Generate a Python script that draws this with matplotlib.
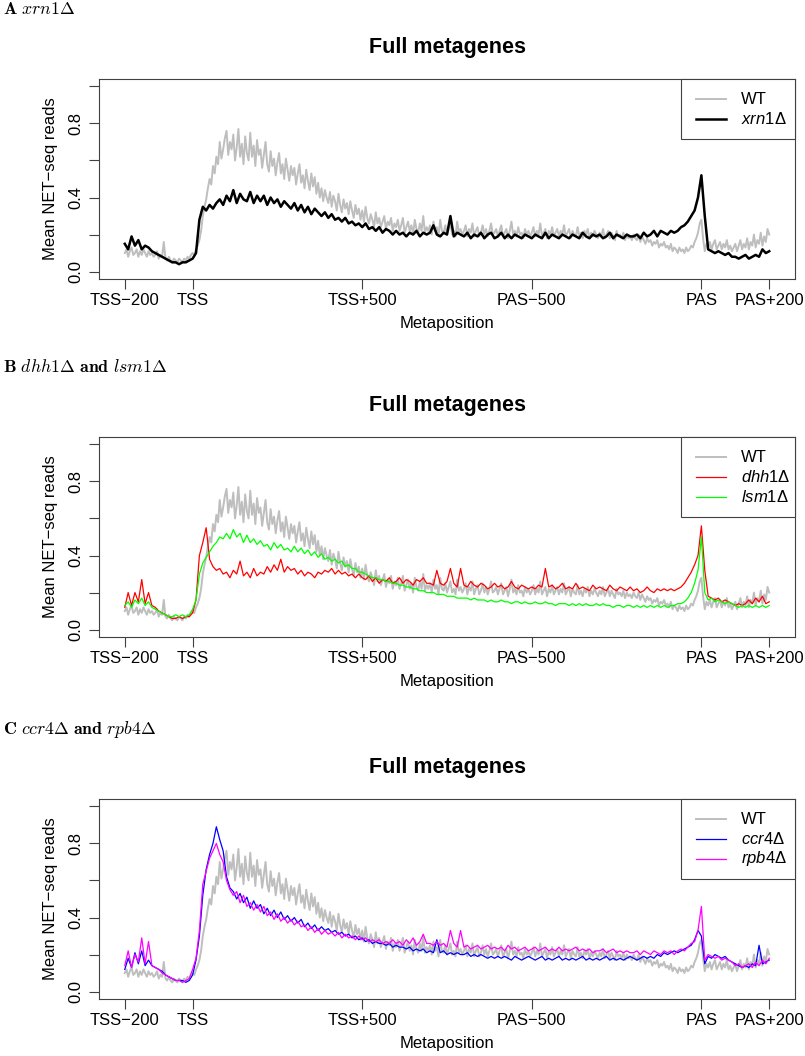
"""Full metagenes: NET-seq profiles for three mutant sets (A, B, C)"""
import matplotlib
matplotlib.use('Agg')
import matplotlib.pyplot as plt
import matplotlib.patches as mp
from matplotlib.lines import Line2D
import numpy as np

W, H = 805, 1056
DPI = 100

plt.rcParams['font.family'] = ['Liberation Sans', 'DejaVu Sans']
plt.rcParams['mathtext.fontset'] = 'custom'
plt.rcParams['mathtext.rm'] = 'Liberation Sans'
plt.rcParams['mathtext.it'] = 'Liberation Sans:italic'
plt.rcParams['mathtext.bf'] = 'Liberation Sans:bold'

GRAY = '#BEBEBE'
FRAME = '#404040'

# metaposition axis
tick_pos = [0, 200, 700, 1200, 1700, 1900]
tick_lab = ['TSS−200', 'TSS', 'TSS+500', 'PAS−500', 'PAS', 'PAS+200']
pos_wt = np.arange(0, 1901, 5)    # WT read every 5 metapositions
pos = np.arange(0, 1901, 10)      # mutants every 10

# mean NET-seq reads
wt = [
    0.10, 0.12, 0.08, 0.11, 0.13, 0.09, 0.10, 0.12, 0.08, 0.11, 0.09, 0.12, 0.10, 0.08, 0.11, 0.09, 0.10, 0.08, 0.09, 0.11,
    0.07, 0.09, 0.08, 0.16, 0.07, 0.06, 0.08, 0.06, 0.05, 0.07, 0.06, 0.05, 0.07, 0.06, 0.05, 0.07, 0.06, 0.08, 0.07, 0.09,
    0.10, 0.09, 0.12, 0.14, 0.17, 0.22, 0.30, 0.35, 0.39, 0.45, 0.50, 0.47, 0.57, 0.53, 0.62, 0.58, 0.70, 0.61, 0.66, 0.72,
    0.76, 0.63, 0.70, 0.66, 0.74, 0.60, 0.67, 0.77, 0.62, 0.69, 0.58, 0.73, 0.64, 0.60, 0.75, 0.62, 0.68, 0.57, 0.71, 0.63,
    0.66, 0.56, 0.63, 0.70, 0.58, 0.54, 0.65, 0.57, 0.61, 0.52, 0.59, 0.64, 0.53, 0.58, 0.50, 0.61, 0.55, 0.49, 0.57, 0.52,
    0.56, 0.47, 0.53, 0.58, 0.48, 0.52, 0.45, 0.55, 0.49, 0.44, 0.53, 0.46, 0.51, 0.42, 0.48, 0.40, 0.45, 0.38, 0.44, 0.40,
    0.37, 0.43, 0.35, 0.41, 0.38, 0.33, 0.42, 0.36, 0.32, 0.39, 0.34, 0.37, 0.31, 0.38, 0.33, 0.29, 0.36, 0.31, 0.34, 0.28,
    0.33, 0.27, 0.35, 0.29, 0.26, 0.31, 0.28, 0.24, 0.32, 0.26, 0.29, 0.24, 0.27, 0.30, 0.23, 0.27, 0.25, 0.29, 0.22, 0.26,
    0.24, 0.28, 0.22, 0.25, 0.29, 0.21, 0.24, 0.27, 0.22, 0.25, 0.20, 0.28, 0.23, 0.21, 0.26, 0.22, 0.30, 0.21, 0.24, 0.22,
    0.25, 0.20, 0.27, 0.22, 0.24, 0.19, 0.28, 0.22, 0.21, 0.25, 0.20, 0.23, 0.26, 0.20, 0.22, 0.19, 0.27, 0.21, 0.23, 0.20,
    0.22, 0.25, 0.19, 0.23, 0.21, 0.26, 0.19, 0.22, 0.24, 0.19, 0.21, 0.25, 0.20, 0.23, 0.19, 0.22, 0.26, 0.20, 0.21, 0.23,
    0.19, 0.22, 0.25, 0.19, 0.21, 0.23, 0.18, 0.22, 0.27, 0.20, 0.22, 0.19, 0.24, 0.20, 0.21, 0.18, 0.23, 0.20, 0.22, 0.19,
    0.21, 0.24, 0.19, 0.22, 0.20, 0.26, 0.19, 0.21, 0.23, 0.18, 0.22, 0.20, 0.24, 0.19, 0.21, 0.23, 0.19, 0.22, 0.20, 0.25,
    0.19, 0.21, 0.23, 0.18, 0.22, 0.20, 0.19, 0.24, 0.19, 0.21, 0.18, 0.22, 0.20, 0.23, 0.18, 0.21, 0.19, 0.22, 0.20, 0.18,
    0.21, 0.19, 0.23, 0.18, 0.20, 0.22, 0.18, 0.21, 0.19, 0.17, 0.22, 0.19, 0.20, 0.18, 0.21, 0.17, 0.20, 0.18, 0.19, 0.17,
    0.20, 0.18, 0.17, 0.20, 0.16, 0.19, 0.17, 0.15, 0.18, 0.16, 0.17, 0.14, 0.16, 0.15, 0.17, 0.13, 0.15, 0.14, 0.16, 0.13,
    0.14, 0.12, 0.15, 0.11, 0.13, 0.12, 0.10, 0.13, 0.11, 0.12, 0.10, 0.13, 0.11, 0.12, 0.14, 0.13, 0.16, 0.18, 0.21, 0.26,
    0.28, 0.18, 0.11, 0.15, 0.13, 0.16, 0.12, 0.15, 0.17, 0.12, 0.14, 0.16, 0.12, 0.15, 0.13, 0.17, 0.12, 0.14, 0.11, 0.13,
    0.15, 0.11, 0.14, 0.17, 0.12, 0.15, 0.13, 0.18, 0.12, 0.16, 0.14, 0.20, 0.13, 0.17, 0.15, 0.21, 0.14, 0.19, 0.16, 0.23,
    0.20,
]

xrn1 = [
    0.15, 0.12, 0.19, 0.14, 0.17, 0.12, 0.14, 0.13, 0.11, 0.10,
    0.09, 0.08, 0.07, 0.06, 0.05, 0.05, 0.04, 0.05, 0.05, 0.06,
    0.07, 0.10, 0.28, 0.35, 0.33, 0.36, 0.34, 0.37, 0.39, 0.36,
    0.41, 0.38, 0.44, 0.37, 0.42, 0.39, 0.38, 0.43, 0.37, 0.41,
    0.38, 0.41, 0.36, 0.40, 0.37, 0.39, 0.35, 0.38, 0.36, 0.34,
    0.37, 0.33, 0.36, 0.32, 0.35, 0.31, 0.34, 0.32, 0.30, 0.32,
    0.29, 0.31, 0.28, 0.29, 0.27, 0.29, 0.26, 0.27, 0.25, 0.26,
    0.24, 0.26, 0.23, 0.24, 0.22, 0.24, 0.21, 0.23, 0.22, 0.20,
    0.22, 0.20, 0.21, 0.19, 0.21, 0.20, 0.22, 0.19, 0.21, 0.20,
    0.21, 0.25, 0.20, 0.19, 0.21, 0.20, 0.30, 0.19, 0.21, 0.20,
    0.19, 0.21, 0.18, 0.20, 0.19, 0.21, 0.18, 0.20, 0.21, 0.18,
    0.19, 0.21, 0.18, 0.20, 0.18, 0.20, 0.19, 0.18, 0.20, 0.19,
    0.18, 0.20, 0.19, 0.18, 0.21, 0.18, 0.20, 0.19, 0.18, 0.20,
    0.19, 0.18, 0.20, 0.19, 0.18, 0.21, 0.19, 0.18, 0.20, 0.19,
    0.20, 0.18, 0.19, 0.21, 0.18, 0.20, 0.19, 0.18, 0.20, 0.19,
    0.19, 0.20, 0.18, 0.21, 0.19, 0.20, 0.22, 0.19, 0.22, 0.21,
    0.20, 0.22, 0.21, 0.22, 0.24, 0.25, 0.27, 0.30, 0.33, 0.40,
    0.52, 0.30, 0.12, 0.11, 0.10, 0.11, 0.10, 0.09, 0.10, 0.08,
    0.08, 0.07, 0.08, 0.09, 0.07, 0.08, 0.09, 0.08, 0.12, 0.10,
    0.11,
]

dhh1 = [
    0.12, 0.20, 0.13, 0.20, 0.15, 0.27, 0.14, 0.20, 0.13, 0.12,
    0.10, 0.09, 0.08, 0.07, 0.06, 0.06, 0.07, 0.06, 0.07, 0.07,
    0.09, 0.16, 0.40, 0.47, 0.55, 0.38, 0.34, 0.32, 0.33, 0.30,
    0.31, 0.28, 0.32, 0.30, 0.37, 0.29, 0.31, 0.28, 0.33, 0.29,
    0.31, 0.30, 0.34, 0.31, 0.35, 0.32, 0.38, 0.31, 0.34, 0.32,
    0.33, 0.30, 0.32, 0.29, 0.31, 0.30, 0.28, 0.31, 0.30, 0.32,
    0.31, 0.33, 0.30, 0.32, 0.30, 0.31, 0.29, 0.30, 0.28, 0.30,
    0.28, 0.27, 0.29, 0.26, 0.28, 0.25, 0.27, 0.26, 0.28, 0.25,
    0.26, 0.28, 0.25, 0.27, 0.26, 0.24, 0.27, 0.26, 0.28, 0.25,
    0.25, 0.24, 0.32, 0.25, 0.24, 0.26, 0.33, 0.25, 0.23, 0.33,
    0.24, 0.23, 0.26, 0.24, 0.23, 0.25, 0.24, 0.22, 0.23, 0.25,
    0.23, 0.24, 0.22, 0.23, 0.26, 0.23, 0.22, 0.24, 0.23, 0.22,
    0.23, 0.22, 0.24, 0.23, 0.33, 0.23, 0.24, 0.22, 0.23, 0.25,
    0.22, 0.23, 0.22, 0.25, 0.22, 0.23, 0.22, 0.21, 0.24, 0.22,
    0.23, 0.22, 0.21, 0.24, 0.22, 0.21, 0.23, 0.22, 0.21, 0.23,
    0.21, 0.22, 0.20, 0.21, 0.23, 0.21, 0.20, 0.22, 0.21, 0.22,
    0.21, 0.22, 0.21, 0.22, 0.23, 0.25, 0.28, 0.31, 0.35, 0.40,
    0.56, 0.32, 0.18, 0.17, 0.16, 0.17, 0.15, 0.16, 0.15, 0.14,
    0.13, 0.14, 0.13, 0.14, 0.16, 0.14, 0.17, 0.15, 0.18, 0.14,
    0.15,
]

lsm1 = [
    0.13, 0.15, 0.12, 0.16, 0.14, 0.17, 0.13, 0.15, 0.12, 0.11,
    0.10, 0.09, 0.08, 0.07, 0.07, 0.08, 0.07, 0.08, 0.07, 0.08,
    0.11, 0.16, 0.30, 0.36, 0.39, 0.42, 0.45, 0.47, 0.50, 0.49,
    0.52, 0.49, 0.54, 0.50, 0.52, 0.47, 0.51, 0.47, 0.49, 0.46,
    0.48, 0.45, 0.46, 0.43, 0.47, 0.44, 0.46, 0.43, 0.44, 0.42,
    0.45, 0.42, 0.44, 0.41, 0.43, 0.40, 0.42, 0.39, 0.41, 0.38,
    0.39, 0.37, 0.38, 0.36, 0.37, 0.34, 0.35, 0.33, 0.33, 0.31,
    0.31, 0.30, 0.29, 0.28, 0.28, 0.27, 0.27, 0.26, 0.26, 0.25,
    0.25, 0.24, 0.24, 0.23, 0.23, 0.22, 0.22, 0.21, 0.21, 0.20,
    0.20, 0.20, 0.19, 0.19, 0.19, 0.18, 0.18, 0.18, 0.17, 0.17,
    0.17, 0.17, 0.16, 0.17, 0.16, 0.16, 0.16, 0.15, 0.16, 0.15,
    0.15, 0.16, 0.15, 0.15, 0.14, 0.15, 0.15, 0.14, 0.15, 0.14,
    0.14, 0.15, 0.14, 0.14, 0.15, 0.14, 0.14, 0.13, 0.14, 0.14,
    0.14, 0.13, 0.14, 0.13, 0.14, 0.13, 0.14, 0.13, 0.13, 0.14,
    0.13, 0.14, 0.13, 0.13, 0.12, 0.13, 0.13, 0.12, 0.13, 0.13,
    0.12, 0.13, 0.12, 0.13, 0.12, 0.13, 0.12, 0.13, 0.12, 0.13,
    0.12, 0.13, 0.13, 0.14, 0.14, 0.15, 0.17, 0.20, 0.25, 0.32,
    0.50, 0.20, 0.16, 0.17, 0.15, 0.16, 0.15, 0.14, 0.15, 0.14,
    0.13, 0.12, 0.13, 0.12, 0.13, 0.12, 0.13, 0.12, 0.13, 0.12,
    0.13,
]

ccr4 = [
    0.12, 0.18, 0.13, 0.21, 0.15, 0.22, 0.14, 0.17, 0.14, 0.13,
    0.12, 0.11, 0.09, 0.08, 0.07, 0.06, 0.06, 0.06, 0.05, 0.06,
    0.09, 0.17, 0.30, 0.52, 0.66, 0.74, 0.80, 0.89, 0.82, 0.76,
    0.62, 0.56, 0.54, 0.50, 0.53, 0.48, 0.51, 0.45, 0.49, 0.45,
    0.47, 0.42, 0.45, 0.41, 0.44, 0.40, 0.43, 0.39, 0.41, 0.38,
    0.40, 0.37, 0.39, 0.35, 0.37, 0.34, 0.36, 0.33, 0.35, 0.33,
    0.34, 0.32, 0.33, 0.31, 0.32, 0.30, 0.31, 0.29, 0.30, 0.28,
    0.29, 0.27, 0.28, 0.26, 0.27, 0.26, 0.26, 0.25, 0.26, 0.24,
    0.25, 0.24, 0.24, 0.23, 0.24, 0.22, 0.23, 0.22, 0.23, 0.21,
    0.22, 0.21, 0.28, 0.21, 0.22, 0.20, 0.21, 0.20, 0.21, 0.20,
    0.20, 0.21, 0.19, 0.20, 0.19, 0.20, 0.19, 0.18, 0.19, 0.18,
    0.19, 0.18, 0.19, 0.18, 0.17, 0.19, 0.18, 0.17, 0.18, 0.19,
    0.18, 0.17, 0.18, 0.19, 0.17, 0.18, 0.17, 0.18, 0.19, 0.17,
    0.18, 0.17, 0.18, 0.17, 0.18, 0.19, 0.17, 0.18, 0.17, 0.18,
    0.17, 0.18, 0.19, 0.17, 0.18, 0.17, 0.18, 0.17, 0.18, 0.19,
    0.18, 0.17, 0.18, 0.19, 0.18, 0.19, 0.18, 0.20, 0.19, 0.21,
    0.20, 0.21, 0.22, 0.21, 0.22, 0.23, 0.24, 0.25, 0.28, 0.33,
    0.30, 0.15, 0.19, 0.18, 0.20, 0.19, 0.18, 0.19, 0.17, 0.16,
    0.15, 0.14, 0.13, 0.14, 0.13, 0.15, 0.14, 0.25, 0.15, 0.16,
    0.17,
]

rpb4 = [
    0.14, 0.22, 0.13, 0.20, 0.16, 0.29, 0.15, 0.27, 0.14, 0.13,
    0.12, 0.10, 0.09, 0.08, 0.07, 0.06, 0.06, 0.05, 0.06, 0.07,
    0.12, 0.18, 0.33, 0.58, 0.65, 0.72, 0.76, 0.80, 0.74, 0.70,
    0.60, 0.55, 0.52, 0.54, 0.48, 0.52, 0.46, 0.48, 0.44, 0.47,
    0.43, 0.46, 0.41, 0.43, 0.39, 0.42, 0.38, 0.40, 0.37, 0.39,
    0.36, 0.38, 0.35, 0.36, 0.33, 0.35, 0.32, 0.34, 0.31, 0.33,
    0.31, 0.32, 0.30, 0.32, 0.29, 0.31, 0.29, 0.30, 0.28, 0.30,
    0.28, 0.29, 0.27, 0.28, 0.27, 0.28, 0.26, 0.27, 0.26, 0.28,
    0.26, 0.27, 0.25, 0.28, 0.26, 0.29, 0.25, 0.27, 0.31, 0.26,
    0.26, 0.25, 0.27, 0.25, 0.26, 0.24, 0.33, 0.26, 0.24, 0.33,
    0.24, 0.25, 0.23, 0.24, 0.25, 0.23, 0.24, 0.25, 0.23, 0.24,
    0.23, 0.24, 0.22, 0.25, 0.23, 0.24, 0.22, 0.23, 0.24, 0.22,
    0.23, 0.24, 0.22, 0.23, 0.24, 0.22, 0.23, 0.22, 0.24, 0.22,
    0.23, 0.22, 0.23, 0.24, 0.22, 0.23, 0.22, 0.23, 0.21, 0.22,
    0.22, 0.23, 0.21, 0.22, 0.23, 0.21, 0.22, 0.21, 0.22, 0.21,
    0.21, 0.22, 0.20, 0.22, 0.21, 0.20, 0.22, 0.21, 0.20, 0.22,
    0.21, 0.22, 0.20, 0.22, 0.23, 0.22, 0.24, 0.26, 0.27, 0.33,
    0.46, 0.17, 0.20, 0.19, 0.18, 0.19, 0.17, 0.18, 0.17, 0.16,
    0.14, 0.15, 0.13, 0.14, 0.15, 0.13, 0.16, 0.14, 0.17, 0.15,
    0.18,
]

assert len(wt) == len(pos_wt)
for s in (xrn1, dhh1, lsm1, ccr4, rpb4):
    assert len(s) == len(pos)

fig = plt.figure(figsize=(W / DPI, H / DPI), dpi=DPI)
fig.patch.set_facecolor('white')


def fx(x):
    return x / W


def fy(y):
    return 1 - y / H


def draw_panel(top, label, lab_y, series, names):
    bottom = top + 200
    ax = fig.add_axes([fx(99), fy(bottom), fx(795) - fx(99), (bottom - top) / H])
    for xs, vals, col, lw in series:
        ax.plot(xs, vals, color=col, lw=lw)
    ax.set_xlim(-76, 1976)
    ax.set_ylim(-0.04, 1.04)
    ax.set_xticks(tick_pos, tick_lab)
    ax.set_yticks([0, 0.2, 0.4, 0.6, 0.8, 1.0], ['0.0', '', '0.4', '', '0.8', ''])
    for lbl in ax.get_yticklabels():
        lbl.set_rotation(90)
        lbl.set_va('center')
    ax.tick_params(axis='both', length=7, width=0.8, color=FRAME,
                   labelsize=12, direction='out')
    ax.tick_params(axis='x', pad=3)
    ax.tick_params(axis='y', pad=4)
    for sp in ax.spines.values():
        sp.set_color(FRAME)
        sp.set_linewidth(0.8)
    ax.set_xlabel('Metaposition', fontsize=12, labelpad=6)
    ax.set_ylabel('Mean NET−seq reads', fontsize=12, labelpad=8)

    # title and panel label
    fig.text(fx(447), fy(top - 31), 'Full metagenes', ha='center', va='center',
             fontsize=15.5, fontweight='bold')
    fig.text(fx(3), fy(lab_y), label, ha='left', va='center', fontsize=12.8,
             math_fontfamily='cm')

    # legend box, top right corner inside the frame
    n = len(names)
    bx0 = 681
    box_h = 20 * n + 20
    fig.add_artist(mp.Rectangle((fx(bx0), fy(top + box_h)), fx(795) - fx(bx0),
                                box_h / H, transform=fig.transFigure,
                                fc='white', ec=FRAME, lw=0.8, zorder=5))
    for i, ((xs, vals, col, lw), name) in enumerate(zip(series, names)):
        ly = top + 20 + 20 * i
        fig.add_artist(Line2D([fx(696), fx(726)], [fy(ly), fy(ly)],
                              transform=fig.transFigure, color=col, lw=lw,
                              zorder=6))
        fig.text(fx(741), fy(ly), name, ha='left', va='center', fontsize=12,
                 zorder=7)
    return ax


draw_panel(79, r'$\mathbf{A}\ xrn1\Delta$', 10,
           [(pos_wt, wt, GRAY, 1.4), (pos, xrn1, 'black', 1.8)],
           ['WT', r'$\mathit{xrn1}\Delta$'])

draw_panel(437, r'$\mathbf{B}\ dhh1\Delta\ \mathbf{and}\ lsm1\Delta$', 367,
           [(pos_wt, wt, GRAY, 1.4), (pos, dhh1, '#FF0000', 0.9),
            (pos, lsm1, '#00FF00', 0.9)],
           ['WT', r'$\mathit{dhh1}\Delta$', r'$\mathit{lsm1}\Delta$'])

draw_panel(799, r'$\mathbf{C}\ ccr4\Delta\ \mathbf{and}\ rpb4\Delta$', 730,
           [(pos_wt, wt, GRAY, 1.4), (pos, ccr4, '#0000FF', 0.9),
            (pos, rpb4, '#FF00FF', 0.9)],
           ['WT', r'$\mathit{ccr4}\Delta$', r'$\mathit{rpb4}\Delta$'])

fig.savefig('out.png', dpi=DPI, facecolor='white')
plt.close(fig)
